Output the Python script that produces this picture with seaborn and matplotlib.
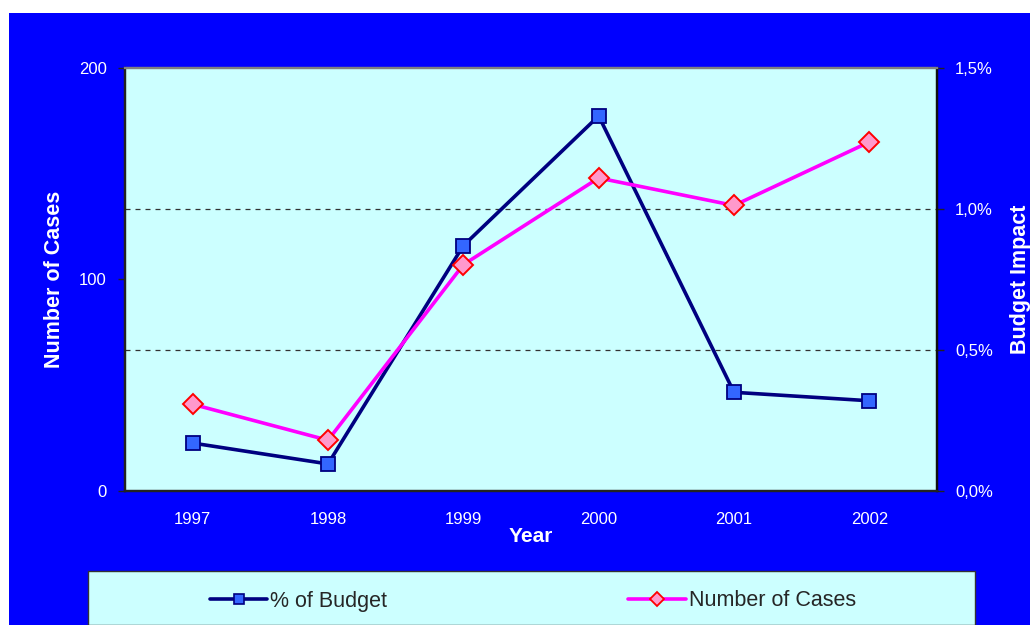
import matplotlib
matplotlib.use("Agg")
import matplotlib.pyplot as plt
import matplotlib.patches as mpatches
from matplotlib.lines import Line2D
from matplotlib.ticker import FixedLocator, FuncFormatter
import seaborn as sns

# Data
years = [1997, 1998, 1999, 2000, 2001, 2002]
cases = [41, 24, 107, 148, 135, 165]
budget_pct = [0.17, 0.096, 0.87, 1.33, 0.35, 0.32]

sns.set_style("white")
plt.rcParams['font.family'] = ['Liberation Sans', 'DejaVu Sans']

fig = plt.figure(figsize=(10.3, 6.25), dpi=100, facecolor='white')

# blue background panel (white strip at top and left like the reference)
fig.patches.append(mpatches.Rectangle((9 / 1030, 0), 1, 1 - 13 / 625, transform=fig.transFigure,
                                      facecolor='#0000FF', edgecolor='none', zorder=-5))

ax2 = fig.add_axes([125 / 1030, 1 - 491 / 625, (937 - 125) / 1030, (491 - 68) / 625])
ax = ax2.twinx()
ax.yaxis.tick_left()
ax.yaxis.set_label_position('left')
ax2.yaxis.tick_right()
ax2.yaxis.set_label_position('right')
ax.set_zorder(ax2.get_zorder() + 1)
ax.patch.set_visible(False)
ax2.set_facecolor('#CCFFFF')

# % of Budget on the right axis
sns.lineplot(x=years, y=budget_pct, ax=ax2, color='#000080', linewidth=2.6,
             marker='s', markersize=10.5, markerfacecolor='#3366FF',
             markeredgecolor='#000080', markeredgewidth=1.3, label='% of Budget')
# Number of Cases on the left axis
sns.lineplot(x=years, y=cases, ax=ax, color='#FF00FF', linewidth=2.6,
             marker='D', markersize=10, markerfacecolor='#FF99CC',
             markeredgecolor='#FF0000', markeredgewidth=1.4, label='Number of Cases')

for a in (ax, ax2):
    a.set_xlim(1996.5, 2002.5)
    if a.get_legend():
        a.get_legend().remove()

ax.set_ylim(0, 200)
ax2.set_ylim(0, 1.5)
ax.yaxis.set_major_locator(FixedLocator([0, 100, 200]))
ax2.yaxis.set_major_locator(FixedLocator([0, 0.5, 1.0, 1.5]))
ax2.yaxis.set_major_formatter(FuncFormatter(lambda v, p: f"{v:.1f}%".replace('.', ',')))

# dashed gridlines at 0.5% and 1.0%
for v in [0.5, 1.0]:
    ax2.axhline(v, color='#333333', linestyle=(0, (4, 4)), linewidth=0.9, zorder=1)

ax2.set_xticks(years)
ax2.set_xticks([y + 0.5 for y in [1996] + years], minor=True)
ax2.tick_params(axis='x', which='major', length=0, pad=15, labelsize=12, labelcolor='white')
ax2.tick_params(axis='x', which='minor', length=5, width=1, color='#222222', direction='out')
ax.tick_params(axis='y', length=5, width=1, color='#222222', direction='out',
               labelsize=12, labelcolor='white', pad=8)
ax2.tick_params(axis='y', length=5, width=1, color='#222222', direction='out',
                labelsize=12, labelcolor='white', pad=8)

ax2.set_xlabel('Year', color='white', fontsize=15, fontweight='bold', labelpad=0)
ax.set_ylabel('Number of Cases', color='white', fontsize=15.5, fontweight='bold', labelpad=10)
ax2.set_ylabel('Budget Impact', color='white', fontsize=15.5, fontweight='bold', labelpad=12)

for a in (ax, ax2):
    for side in a.spines:
        a.spines[side].set_visible(True)
    a.spines['left'].set_color('#222222')
    a.spines['bottom'].set_color('#222222')
    a.spines['right'].set_color('#111111')
    a.spines['top'].set_color('#808080')
    for s in a.spines.values():
        s.set_linewidth(1.6)

# legend panel at the bottom
fig.patches.append(mpatches.Rectangle((88 / 1030, 0), (975 - 88) / 1030, (625 - 571) / 625,
                                      transform=fig.transFigure, facecolor='#CCFFFF',
                                      edgecolor='#333333', linewidth=1, zorder=1))
handles = [
    Line2D([], [], color='#000080', linewidth=2.6, marker='s', markersize=7.5,
           markerfacecolor='#3366FF', markeredgecolor='#000080', markeredgewidth=1.2),
    Line2D([], [], color='#FF00FF', linewidth=2.6, marker='D', markersize=7.5,
           markerfacecolor='#FF99CC', markeredgecolor='#FF0000', markeredgewidth=1.3),
]
fig.legend(handles, ['% of Budget', 'Number of Cases'], ncol=2, loc='center',
           bbox_to_anchor=(533 / 1030, 1 - 601 / 625), frameon=False, fontsize=15.5,
           handlelength=2.65, handletextpad=0.15, columnspacing=11.2)

fig.savefig('out.png', dpi=100, facecolor=fig.get_facecolor())
